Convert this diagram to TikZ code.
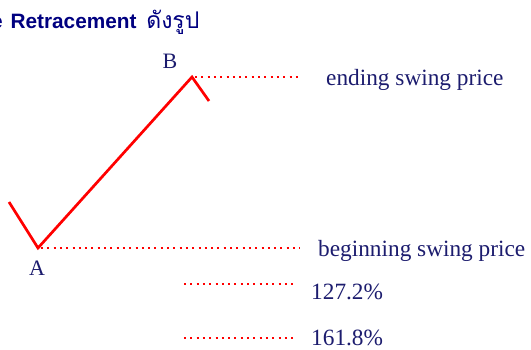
\documentclass[tikz,border=0pt]{standalone}
\usepackage{fontspec}
\usepackage{xcolor}
\setmainfont{Liberation Serif}
\newfontfamily\headfont{Liberation Sans}
\newfontfamily\thaifont[Script=Thai]{Loma}
\usetikzlibrary{positioning}
\definecolor{swingred}{HTML}{FF0000}
\definecolor{labelnavy}{HTML}{1C1C6E}
\definecolor{titlenavy}{HTML}{000080}

\begin{document}
\begin{tikzpicture}[
  x=1pt, y=1pt,
  swing/.style={draw=swingred, line width=2.7pt, line join=miter},
  guide/.style={draw=swingred, line width=2.1pt, dash pattern=on 2pt off 4.3pt},
  price/.style={anchor=base west, inner sep=0pt, text=labelnavy, font=\fontsize{23.3}{27}\selectfont},
  point/.style={anchor=base, inner sep=0pt, text=labelnavy, font=\fontsize{22}{26}\selectfont}
]
  \useasboundingbox (0,0) rectangle (531,349);
  \clip (0,0) rectangle (531,349);
  \node[anchor=base west, inner sep=0pt, text=titlenavy, font=\headfont\bfseries\fontsize{20.8}{24}\selectfont] (title) at (-9,320) {e\hspace{2pt} Retracement\hspace{4pt} \mdseries\thaifont\fontsize{23}{26}\selectfont ดังรูป};
  \coordinate (start) at (9,147);
  \coordinate (a) at (38,101);
  \coordinate (b) at (192,272);
  \coordinate (after) at (209,248);
  \node[point] (labelb) at (170,280) {B};
  \node[point] (labela) at (37,74) {A};
  \node[price] (ending) at (326,263) {ending swing price};
  \node[price] (beginning) at (318,93) {beginning swing price};
  \node[price] (ext1) at (311,50) {127.2\%};
  \node[price] (ext2) at (311,4) {161.8\%};
  \coordinate (ext1l) at (184,65);
  \coordinate (ext1r) at (293,65);
  \coordinate (ext2l) at (184,11);
  \coordinate (ext2r) at (293,11);
  \coordinate (endr) at (300,272);
  \coordinate (begr) at (300,101);
  \draw[swing] (start) -- (a) -- (b) -- (after);
  \draw[guide] ([xshift=3pt]b) -- (endr);
  \draw[guide] ([xshift=3pt]a) -- (begr);
  \draw[guide] (ext1l) -- (ext1r);
  \draw[guide] (ext2l) -- (ext2r);
\end{tikzpicture}
\end{document}
